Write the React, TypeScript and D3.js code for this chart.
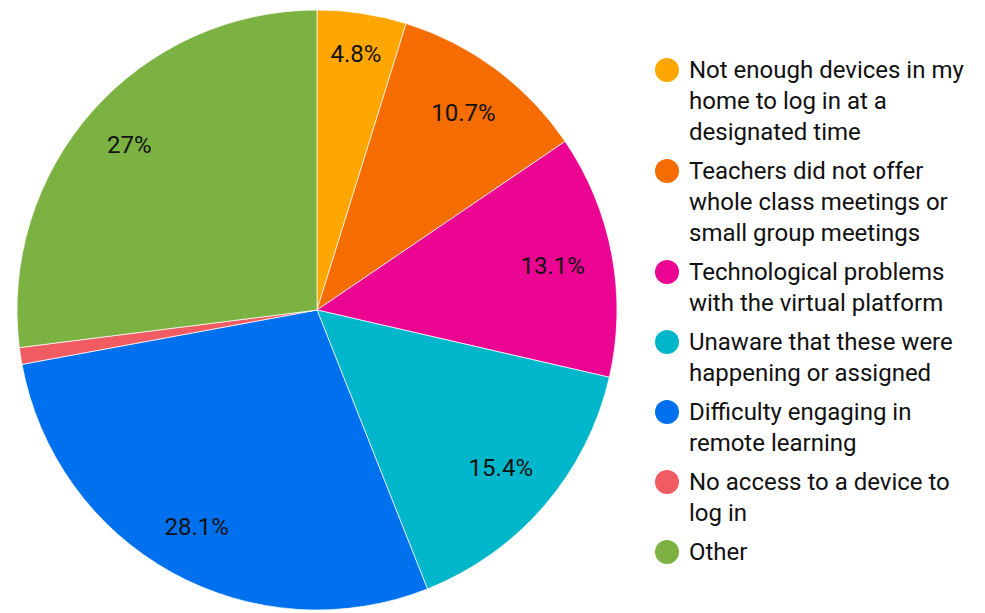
import React from "react";
import * as d3 from "d3";

const categories = [
  "Not enough devices in my home to log in at a designated time",
  "Teachers did not offer whole class meetings or small group meetings",
  "Technological problems with the virtual platform",
  "Unaware that these were happening or assigned",
  "Difficulty engaging in remote learning",
  "No access to a device to log in",
  "Other",
];
const values = [4.8, 10.7, 13.1, 15.4, 28.1, 0.9, 27];
const labels = ["4.8%", "10.7%", "13.1%", "15.4%", "28.1%", "", "27%"];
const legendLines = [
  ["Not enough devices in my", "home to log in at a", "designated time"],
  ["Teachers did not offer", "whole class meetings or", "small group meetings"],
  ["Technological problems", "with the virtual platform"],
  ["Unaware that these were", "happening or assigned"],
  ["Difficulty engaging in", "remote learning"],
  ["No access to a device to", "log in"],
  ["Other"],
];
const colors = ["#FFA600", "#F56C00", "#EC0493", "#00B6CB", "#0071EE", "#F15B62", "#7BB242"];

function measure(t: string): number {
  const c = document.createElement("canvas").getContext("2d");
  if (!c) return t.length * 12;
  c.font = "24px Roboto";
  return c.measureText(t).width;
}

export default function App() {
  const width = 985, height = 613;
  const cx = 317, cy = 310, r = 300;
  const pie = d3.pie<number>().sort(null).value((d) => d);
  const arcs = pie(values);
  const arc = d3.arc<d3.PieArcDatum<number>>().innerRadius(0).outerRadius(r);
  const lineH = 31;
  let y = 70;
  const legendPos: number[] = [];
  legendLines.forEach((ls) => {
    legendPos.push(y);
    y += ls.length * lineH + 8;
  });
  const R = 273;
  return (
    <svg width={width} height={height} style={{ position: "absolute", left: 0, top: 0, fontFamily: "Roboto, sans-serif" }}>
      <rect width={width} height={height} fill="#fff" />
      <g transform={`translate(${cx},${cy})`}>
        {arcs.map((a, i) => (
          <path key={i} d={arc(a) || ""} fill={colors[i]} stroke="#fff" strokeWidth={0.7} />
        ))}
        {arcs.map((a, i) => {
          if (!labels[i]) return null;
          const mid = (a.startAngle + a.endAngle) / 2;
          const ux = Math.sin(mid), uy = -Math.cos(mid);
          const w = measure(labels[i]);
          const c0 = Math.sign(ux) * w / 2, c1 = Math.sign(uy) * 9;
          const uc = ux * c0 + uy * c1;
          const d = -uc + Math.sqrt(uc * uc - (c0 * c0 + c1 * c1) + R * R);
          return (
            <text key={i} x={d * ux} y={d * uy} textAnchor="middle" dominantBaseline="central" fontSize={24} fill="#111">
              {labels[i]}
            </text>
          );
        })}
      </g>
      <g>
        {legendLines.map((ls, i) => (
          <g key={i}>
            <circle cx={667} cy={legendPos[i]} r={12} fill={colors[i]} />
            {ls.map((t, j) => (
              <text key={j} x={689} y={legendPos[i] + j * lineH} dominantBaseline="central" fontSize={24} fill="#111">
                {t}
              </text>
            ))}
          </g>
        ))}
      </g>
    </svg>
  );
}
